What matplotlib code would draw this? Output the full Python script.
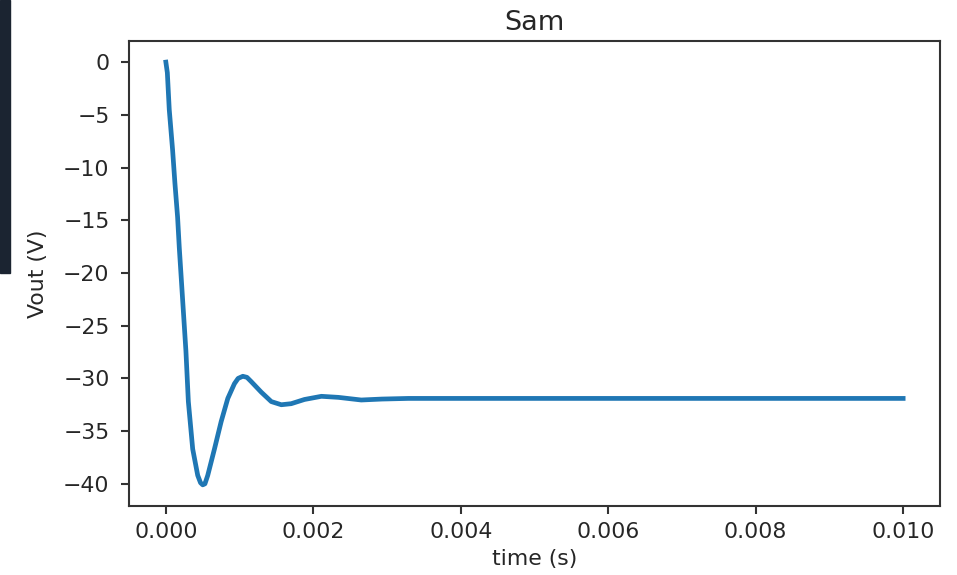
import numpy as np
import matplotlib
matplotlib.use('Agg')
import matplotlib.pyplot as plt
from matplotlib.patches import Rectangle

# points (time in s, voltage in V)
time_s = [0.0, 0.00002, 0.000046, 0.000091, 0.000123, 0.000159, 0.000182,
          0.000227, 0.000272, 0.000305, 0.000364, 0.000432, 0.00047,
          0.0005, 0.00053, 0.000568, 0.000659, 0.00075, 0.00084, 0.00093,
          0.00098, 0.001044, 0.0011, 0.001157, 0.001293, 0.00143,
          0.001566, 0.0017, 0.00188, 0.00211, 0.00234, 0.00265, 0.00293,
          0.00329, 0.005, 0.0075, 0.010]
vout = [0.0, -1.0, -4.5, -8.3, -11.5, -14.7, -17.6,
        -22.5, -27.4, -32.2, -36.7, -39.2, -39.9,
        -40.1, -40.0, -39.2, -36.7, -34.1, -31.9, -30.5,
        -30.0, -29.8, -29.9, -30.3, -31.3, -32.2,
        -32.5, -32.4, -32.0, -31.7, -31.8, -32.05, -31.96,
        -31.9, -31.9, -31.9, -31.9]

fs = 15.8
txt = '#262626'
fig = plt.figure(figsize=(9.57, 5.75), dpi=100)
ax = fig.add_axes([129/957, 1 - 506/575, (940 - 129)/957, (506 - 41)/575])

ax.plot(time_s, vout, color='#1f77b4', lw=3.4)
ax.set_title('Sam', fontsize=19.5, color=txt, pad=8)
ax.set_xlabel('time (s)', fontsize=fs, color=txt, labelpad=5)
ax.set_ylabel('Vout (V)', fontsize=fs, color=txt, labelpad=11)
ax.set_xticks([0.0, 0.002, 0.004, 0.006, 0.008, 0.010])
ax.set_xticklabels(['0.000', '0.002', '0.004', '0.006', '0.008', '0.010'])
ax.tick_params(labelsize=fs, length=6, width=1.5, labelcolor=txt, color='#333333')
ax.tick_params(axis='x', pad=5.5)
ax.tick_params(axis='y', pad=8)
for s in ax.spines.values():
    s.set_linewidth(1.5)
    s.set_color('#333333')

# dark strip at the left edge of the screenshot
fig.patches.append(Rectangle((0, 1 - 273/575), 10/957, 273/575,
                             transform=fig.transFigure, color='#1b2431'))

fig.savefig('out.png', dpi=100)
